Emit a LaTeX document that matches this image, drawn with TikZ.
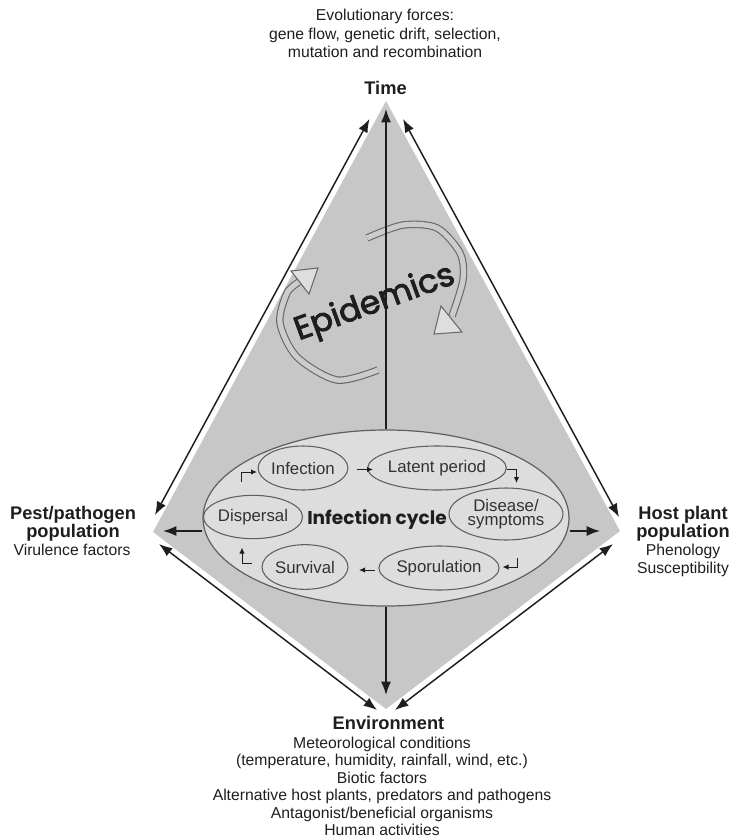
\documentclass[tikz,border=0pt]{standalone}
\usepackage{fontspec}
\setmainfont{Liberation Sans}
\newfontfamily\geofont{Poppins}
\newfontfamily\geomed[FakeBold=2.6]{Poppins}
\usetikzlibrary{arrows.meta,shapes.geometric}
\definecolor{kitegray}{RGB}{199,199,199}
\definecolor{ellfill}{RGB}{221,221,221}
\definecolor{ellline}{RGB}{95,95,95}
\definecolor{ink}{RGB}{30,30,30}
\definecolor{labelink}{RGB}{50,50,50}
\definecolor{bandline}{RGB}{105,105,105}
\definecolor{bandfill}{RGB}{204,204,204}
\definecolor{headfill}{RGB}{222,222,222}
\begin{document}
\begin{tikzpicture}[x=0.75pt,y=-0.75pt,
  edgearr/.style={line width=1.1pt,draw=ink,{Latex[length=10pt,width=7.5pt]}-{Latex[length=10pt,width=7.5pt]}},
  axisarr/.style={line width=1.1pt,draw=ink,-{Latex[length=10pt,width=7.5pt]}},
  smallarr/.style={line width=0.75pt,draw=ink,-{Latex[length=4.5pt,width=4pt]}},
  stage/.style={ellipse,draw=ellline,line width=0.8pt,fill=ellfill,inner sep=0pt,text=labelink,font=\fontsize{12.6}{13}\selectfont},
  regtext/.style={font=\fontsize{11.8}{14}\selectfont,anchor=base,inner sep=0pt,text=ink},
  boldtext/.style={font=\fontsize{13.7}{15}\selectfont\bfseries,anchor=base,inner sep=0pt,text=ink},
  bandout/.style={line width=5.6pt,draw=bandline},
  bandin/.style={line width=3.9pt,draw=bandfill},
  headshape/.style={fill=headfill,draw=bandline,line width=0.8pt,line join=miter}
]
\useasboundingbox (0,0) rectangle (732,839);

% kite
\coordinate (T) at (386,101);
\coordinate (L) at (153,532);
\coordinate (R) at (620,531);
\coordinate (B) at (386,709);
\fill[kitegray] (T) -- (L) -- (B) -- (R) -- cycle;

% edge arrows
\coordinate (ula) at (369.5,119);
\coordinate (ulb) at (155,515);
\coordinate (ura) at (403,119);
\coordinate (urb) at (619,517);
\coordinate (lla) at (159,544);
\coordinate (llb) at (377,710);
\coordinate (lra) at (613,544);
\coordinate (lrb) at (395,710);
\draw[edgearr] (ula) -- (ulb);
\draw[edgearr] (ura) -- (urb);
\draw[edgearr] (lla) -- (llb);
\draw[edgearr] (lra) -- (lrb);

% epidemics cycle arrows
\draw[bandout] plot[smooth] coordinates {(367,238) (403,225) (437,228) (460,253) (463,280) (452,316)};
\draw[bandin]  plot[smooth] coordinates {(367,238) (403,225) (437,228) (460,253) (463,280) (452,316)};
\draw[bandout] plot[smooth] coordinates {(378,370) (337,380) (297,357) (280,323) (287,293) (299,282)};
\draw[bandin]  plot[smooth] coordinates {(378,370) (337,380) (297,357) (280,323) (287,293) (299,282)};
\draw[headshape] (441,306) -- (462,332) -- (434,334) -- cycle;
\draw[headshape] (291,271) -- (309,294) -- (318,268) -- cycle;

% central axes
\coordinate (timetip) at (386,109);
\coordinate (envtip) at (386,695);
\coordinate (pesttip) at (163,531);
\coordinate (hosttip) at (600,531);

\node[ellipse,draw=ellline,line width=0.9pt,fill=ellfill,inner sep=0pt,
      minimum width=274.5pt,minimum height=132pt] (cycle) at (386,518) {};
\draw[axisarr] (cycle.north) -- (timetip);

\node[rotate=20,text=ink,font=\geomed\fontsize{24.5}{26}\selectfont] (epi) at (375,304) {Epidemics};

\draw[axisarr] (cycle.south) -- (envtip);
\draw[axisarr] (pesttip -| cycle.west) -- (pesttip);
\draw[axisarr] (hosttip -| cycle.east) -- (hosttip);

% stages
\node[stage,minimum width=64.5pt,minimum height=33pt] (infection) at (303,468) {Infection};
\node[stage,minimum width=84pt,minimum height=33pt] (latent) at (437,468) {Latent period};
\node[stage,minimum width=85.5pt,minimum height=39pt,align=center] (disease) at (506,514) {Disease/\\[-2pt]symptoms};
\node[stage,minimum width=64.5pt,minimum height=32.5pt] (dispersal) at (253,517) {Dispersal};
\node[stage,minimum width=64.5pt,minimum height=33.5pt] (survival) at (305,567) {Survival};
\node[stage,minimum width=78pt,minimum height=33pt] (sporulation) at (439,568) {Sporulation};
\node[text=ink,font=\geofont\bfseries\fontsize{13.9}{15}\selectfont,inner sep=0pt] (cyclelabel) at (377,520) {Infection cycle};

% small cycle arrows
\coordinate (a1s) at (241,482);
\coordinate (a1e) at (257,472);
\draw[smallarr] (a1s) |- (a1e);
\coordinate (a2s) at (357,469.5);
\coordinate (a2e) at (373,469.5);
\draw[smallarr] (a2s) -- (a2e);
\coordinate (a3s) at (506.5,469.5);
\coordinate (a3e) at (516.5,483);
\draw[smallarr] (a3s) -| (a3e);
\coordinate (a4s) at (517.5,558);
\coordinate (a4e) at (502.5,567);
\draw[smallarr] (a4s) |- (a4e);
\coordinate (a5s) at (375,570);
\coordinate (a5e) at (359,570);
\draw[smallarr] (a5s) -- (a5e);
\coordinate (a6s) at (252,563.5);
\coordinate (a6e) at (242,547.5);
\draw[smallarr] (a6s) -| (a6e);

% texts top
\node[regtext] (evo1) at (385,20.6) {Evolutionary forces:};
\node[regtext] (evo2) at (385,39) {gene flow, genetic drift, selection,};
\node[regtext] (evo3) at (385,57.8) {mutation and recombination};
\node[boldtext] (time) at (385.5,94.8) {Time};

% left
\node[boldtext] (pest1) at (73,519.5) {Pest/pathogen};
\node[boldtext] (pest2) at (73,537.5) {population};
\node[regtext] (pest3) at (72,555) {Virulence factors};

% right
\node[boldtext] (host1) at (683,519.5) {Host plant};
\node[boldtext] (host2) at (683,537.5) {population};
\node[regtext] (host3) at (683,555.5) {Phenology};
\node[regtext] (host4) at (683,573.5) {Susceptibility};

% bottom
\node[boldtext] (env0) at (388.5,729.5) {Environment};
\node[regtext] (env1) at (382,748) {Meteorological conditions};
\node[regtext] (env2) at (382,765.5) {(temperature, humidity, rainfall, wind, etc.)};
\node[regtext] (env3) at (382,783) {Biotic factors};
\node[regtext] (env4) at (382,800.5) {Alternative host plants, predators and pathogens};
\node[regtext] (env5) at (382,818) {Antagonist/beneficial organisms};
\node[regtext] (env6) at (382,835) {Human activities};
\end{tikzpicture}
\end{document}
